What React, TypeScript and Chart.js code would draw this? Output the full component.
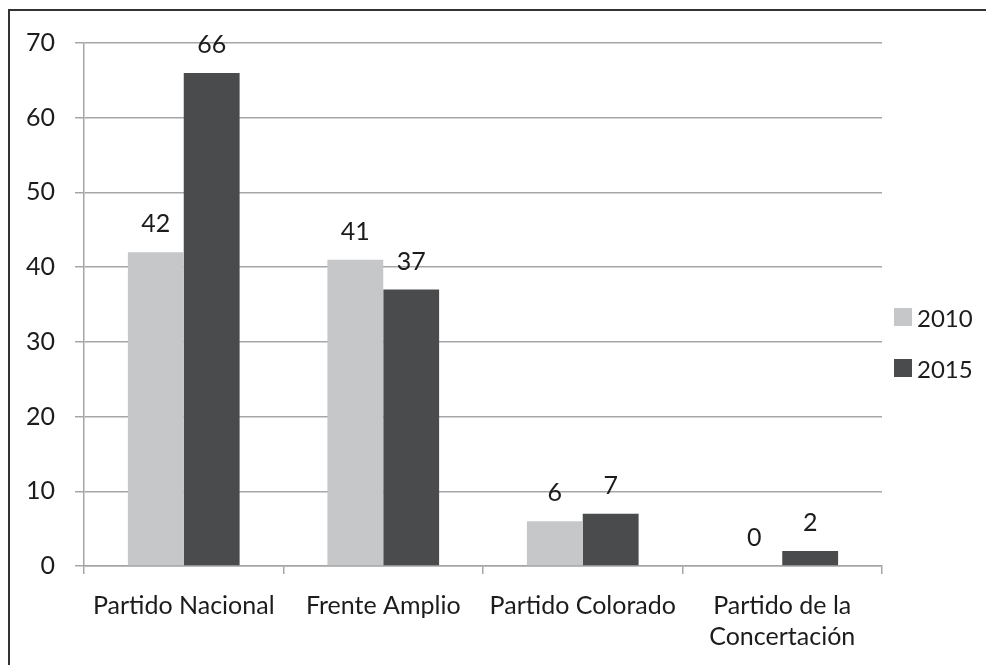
import React, { useEffect, useRef } from "react";
import { Chart, registerables } from "chart.js";

Chart.register(...registerables);

const categories: (string | string[])[] = [
  "Partido Nacional",
  "Frente Amplio",
  "Partido Colorado",
  ["Partido de la", "Concertación"],
];
const seriesNames = ["2010", "2015"];
const values2010 = [42, 41, 6, 0];
const values2015 = [66, 37, 7, 2];
const yTicks = [0, 10, 20, 30, 40, 50, 60, 70];

const colors = ["#c6c7c9", "#4a4b4d"];
const FONT = "Lato, 'Open Sans', sans-serif";
const TEXT = "#1e1b1c";
const FS = 25;

const valueLabels = {
  id: "valueLabels",
  afterDatasetsDraw(chart: any) {
    const ctx = chart.ctx;
    ctx.save();
    ctx.font = `${FS}px ${FONT}`;
    ctx.fillStyle = TEXT;
    ctx.textAlign = "center";
    ctx.textBaseline = "middle";
    chart.data.datasets.forEach((ds: any, i: number) => {
      const meta = chart.getDatasetMeta(i);
      meta.data.forEach((el: any, j: number) => {
        ctx.fillText(String(ds.data[j]), el.x, el.y - 28);
      });
    });
    ctx.restore();
  },
};

export default function App() {
  const ref = useRef<HTMLCanvasElement | null>(null);
  useEffect(() => {
    if (!ref.current) return;
    const chart = new Chart(ref.current, {
      type: "bar",
      data: {
        labels: categories,
        datasets: [
          { label: seriesNames[0], data: values2010, backgroundColor: colors[0] },
          { label: seriesNames[1], data: values2015, backgroundColor: colors[1] },
        ],
      },
      options: {
        animation: false,
        responsive: true,
        maintainAspectRatio: false,
        layout: { padding: { left: 0, top: 43, right: 104, bottom: 0 } },
        plugins: { legend: { display: false }, tooltip: { enabled: false } },
        datasets: { bar: { categoryPercentage: 0.56, barPercentage: 1 } },
        scales: {
          x: {
            afterFit: (s: any) => {
              s.height = 99;
            },
            grid: {
              offset: true,
              drawOnChartArea: false,
              drawTicks: true,
              tickLength: 8,
              color: "#a6a6a6",
              lineWidth: 1.5,
            },
            border: { color: "#a6a6a6", width: 1.5 },
            ticks: {
              font: { family: FONT, size: FS, lineHeight: 1.25 },
              color: TEXT,
              padding: 16,
              maxRotation: 0,
              autoSkip: false,
            },
          },
          y: {
            min: 0,
            max: 70,
            afterFit: (s: any) => {
              s.width = 84;
            },
            afterBuildTicks: (s: any) => {
              s.ticks = yTicks.map((v) => ({ value: v }));
            },
            grid: { color: "#a6a6a6", lineWidth: 1.5, tickLength: 9 },
            border: { color: "#a6a6a6", width: 1.5 },
            ticks: {
              font: { family: FONT, size: FS },
              color: TEXT,
              padding: 20,
            },
          },
        },
      },
      plugins: [valueLabels],
    });
    return () => chart.destroy();
  }, []);

  return (
    <div
      style={{
        position: "fixed",
        left: 0,
        top: 0,
        width: 986,
        height: 665,
        overflow: "hidden",
        background: "#fff",
      }}
    >
      <div
        style={{
          position: "absolute",
          left: 8,
          top: 9,
          width: 1200,
          height: 1000,
          borderLeft: "2px solid #333",
          borderTop: "2px solid #333",
        }}
      />
      <div style={{ position: "absolute", left: 0, top: 0, width: 986, height: 665 }}>
        <canvas ref={ref} />
      </div>
      {seriesNames.map((name, i) => (
        <div
          key={name}
          style={{
            position: "absolute",
            left: 894,
            top: 303 + i * 51,
            height: 28,
            display: "flex",
            alignItems: "center",
            fontFamily: FONT,
            fontSize: 24,
            color: TEXT,
          }}
        >
          <span
            style={{
              display: "inline-block",
              width: 18,
              height: 18,
              background: colors[i],
              marginRight: 5,
            }}
          />
          {name}
        </div>
      ))}
    </div>
  );
}
